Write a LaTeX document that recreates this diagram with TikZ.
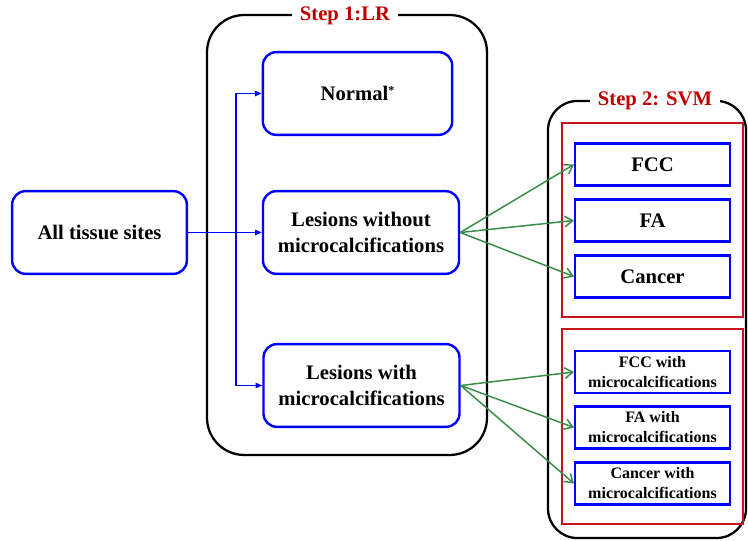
\documentclass[tikz,border=0pt]{standalone}
\usepackage{fontspec}
\setmainfont{Liberation Serif}
\usetikzlibrary{arrows.meta}
\definecolor{stepred}{RGB}{192,0,0}
\definecolor{boxred}{RGB}{200,20,30}
\definecolor{arrgreen}{RGB}{55,140,70}

\begin{document}
\begin{tikzpicture}[x=0.75pt,y=-0.75pt,site/.style={shape=rectangle,draw=blue,line width=1.8pt,rounded corners=10pt,align=center,inner sep=0pt,font=\fontsize{15.5}{20}\bfseries\selectfont},siteS/.style={site,rounded corners=0pt,minimum width=116pt,minimum height=31.5pt},siteSm/.style={siteS,font=\fontsize{12}{15}\bfseries\selectfont},stage/.style={draw=black,line width=1.7pt,rounded corners=28pt},group/.style={draw=boxred,line width=1.3pt},title/.style={fill=white,text=stepred,inner xsep=6pt,inner ysep=1pt,font=\fontsize{15.5}{18}\bfseries\selectfont},flow/.style={draw=blue,line width=1.1pt,-{Triangle[length=5pt,width=4pt]}},pred/.style={draw=arrgreen,line width=1.1pt,-{Straight Barb[length=6pt,width=8pt]}}]
\useasboundingbox (0,0) rectangle (748,541);

\draw[stage] (207,15) rectangle (487,455);
\draw[stage,rounded corners=22pt] (548,101) rectangle (746,538);
\node[title] (t1) at (345,16) {Step 1:LR};
\node[title] (t2) at (655,101) {Step 2: SVM};

\draw[group] (562,123) rectangle (743,317);
\draw[group] (562,329) rectangle (743,524);

\node[site,minimum width=131pt,minimum height=62pt] (all) at (99.5,232.5) {All tissue sites};
\node[site,minimum width=142pt,minimum height=62pt] (norm) at (357.5,93.5) {Normal{\fontsize{9}{9}\selectfont\raisebox{5pt}{*}}};
\node[site,minimum width=147pt,minimum height=62pt] (lesA) at (361,232.5) {Lesions without\\microcalcifications};
\node[site,minimum width=147pt,minimum height=62pt] (lesB) at (361.5,385.5) {Lesions with\\microcalcifications};

\node[siteS] (fcc) at (652.5,164.5) {FCC};
\node[siteS] (fa) at (652.5,220.5) {FA};
\node[siteS] (can) at (652.5,276.5) {Cancer};
\node[siteSm] (fccM) at (652.5,372) {FCC with\\microcalcifications};
\node[siteSm] (faM) at (652.5,427.5) {FA with\\microcalcifications};
\node[siteSm] (canM) at (652.5,483.5) {Cancer with\\microcalcifications};

\coordinate (jn) at (236,232.5);
\draw[flow] (all.east) -- (lesA.west);
\draw[flow] (jn) |- (norm.west);
\draw[flow] (jn) |- (lesB.west);

\draw[pred] (lesA.east) -- (fcc.west);
\draw[pred] (lesA.east) -- (fa.west);
\draw[pred] (lesA.east) -- (can.west);
\draw[pred] (lesB.east) -- (fccM.west);
\draw[pred] (lesB.east) -- (faM.west);
\draw[pred] (lesB.east) -- (canM.west);
\end{tikzpicture}
\end{document}
